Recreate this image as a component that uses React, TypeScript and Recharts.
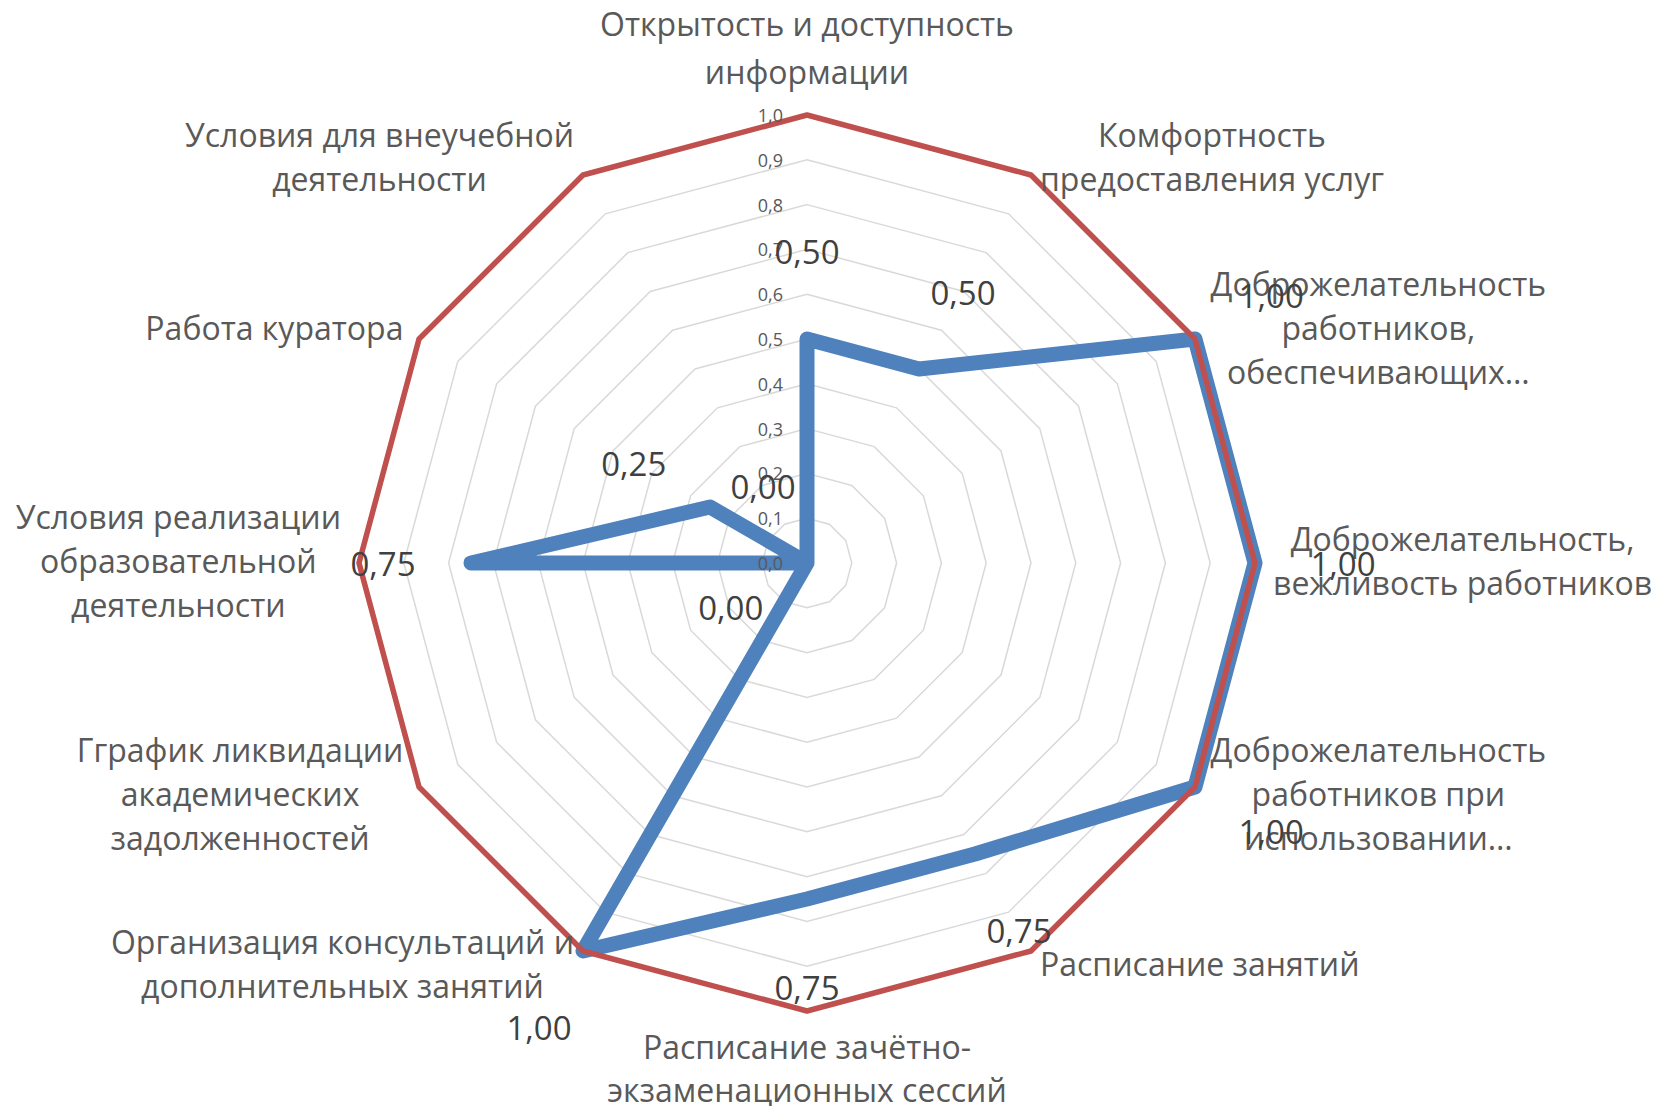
import React from "react";
import {
  RadarChart,
  PolarGrid,
  PolarAngleAxis,
  PolarRadiusAxis,
  Radar,
} from "recharts";

// categories, clockwise from the top; "\n" marks where the label wraps
const categories = [
  "Открытость и доступность\nинформации",
  "Комфортность\nпредоставления услуг",
  "Доброжелательность\nработников,\nобеспечивающих…",
  "Доброжелательность,\nвежливость работников",
  "Доброжелательность\nработников при\nиспользовании…",
  "Расписание занятий",
  "Расписание зачётно-\nэкзаменационных сессий",
  "Организация консультаций и\nдополнительных занятий",
  "Гграфик ликвидации\nакадемических\nзадолженностей",
  "Условия реализации\nобразовательной\nдеятельности",
  "Работа куратора",
  "Условия для внеучебной\nдеятельности",
];
const scores = [0.5, 0.5, 1, 1, 1, 0.75, 0.75, 1, 0, 0.75, 0.25, 0];
const maxScores = [1, 1, 1, 1, 1, 1, 1, 1, 1, 1, 1, 1];
const radialTicks = [0, 0.1, 0.2, 0.3, 0.4, 0.5, 0.6, 0.7, 0.8, 0.9, 1];

const data = categories.map((name, i) => ({
  name,
  score: scores[i],
  max: maxScores[i],
}));

const FONT = '"Open Sans", "Noto Sans", sans-serif';
const LABEL_SIZE = 32;
const LINE_H = 44;

let ctx: CanvasRenderingContext2D | null = null;
function textWidth(s: string, size: number) {
  if (!ctx) ctx = document.createElement("canvas").getContext("2d");
  if (!ctx) return s.length * size * 0.55;
  ctx.font = `${size}px ${FONT}`;
  return ctx.measureText(s).width;
}

function direction(i: number) {
  const a = (i / categories.length) * 2 * Math.PI;
  return { dx: Math.sin(a), dy: -Math.cos(a) };
}

function CategoryTick(props: any) {
  const { x, y, payload } = props;
  const i = categories.indexOf(payload.value);
  const { dx, dy } = direction(i);
  const ax = x + dx * 10;
  const ay = y + dy * 10;
  const lines = String(payload.value).split("\n");
  const w = Math.max(...lines.map((l) => textWidth(l, LABEL_SIZE)));
  let lineH = LINE_H;
  let mid = ax;
  if (dx > 0.01) mid = ax + w / 2;
  else if (dx < -0.01) mid = ax - w / 2;
  let top = ay - (lines.length * lineH) / 2 - 3;
  if (dy < -0.99) {
    lineH = 48;
    top = ay - lines.length * lineH - 2;
  } else if (dy > 0.99) {
    // bottom label sits right at the page edge
    lineH = 43;
    top = ay - 4;
  }
  return (
    <g>
      {lines.map((l, k) => (
        <text
          key={k}
          x={mid}
          y={top + lineH * (k + 0.5)}
          textAnchor="middle"
          dominantBaseline="central"
          fontFamily={FONT}
          fontSize={LABEL_SIZE}
          fill="#595959"
        >
          {l}
        </text>
      ))}
    </g>
  );
}

function RadiusTick(props: any) {
  const { x, y, payload } = props;
  return (
    <text
      x={x - 24}
      y={y}
      textAnchor="end"
      dominantBaseline="central"
      fontFamily={FONT}
      fontSize={18}
      fill="#595959"
    >
      {Number(payload.value).toFixed(1).replace(".", ",")}
    </text>
  );
}

function ValueLabel(props: any) {
  const { cx, cy, index } = props;
  const value = props.payload?.value ?? scores[index];
  const { dx, dy } = direction(index);
  return (
    <text
      key={index}
      x={cx + dx * 88}
      y={cy + dy * 88}
      textAnchor="middle"
      dominantBaseline="central"
      fontFamily={FONT}
      fontSize={33}
      fill="#404040"
    >
      {Number(value).toFixed(2).replace(".", ",")}
    </text>
  );
}

export default function App() {
  // negative margins cancel the body's top/bottom margin so the svg spans the full height
  return (
    <div style={{ width: 1643, height: 1114, marginTop: -8, marginBottom: -8 }}>
      <RadarChart
        width={1643}
        height={1114}
        data={data}
        cx={799}
        cy={563}
        outerRadius={448}
        margin={{ top: 0, right: 0, bottom: 0, left: 0 }}
      >
        <PolarGrid
          gridType="polygon"
          radialLines={false}
          stroke="#D9D9D9"
          strokeWidth={1.5}
        />
        <PolarAngleAxis
          dataKey="name"
          tick={CategoryTick}
          tickLine={false}
          axisLine={false}
          tickSize={8}
        />
        <PolarRadiusAxis
          angle={90}
          domain={[0, 1]}
          ticks={radialTicks as any}
          tickCount={11}
          tick={RadiusTick}
          axisLine={false}
          tickLine={false}
        />
        <Radar
          dataKey="score"
          stroke="#4F81BD"
          strokeWidth={15}
          strokeLinejoin="round"
          fill="none"
          fillOpacity={0}
          isAnimationActive={false}
        />
        <Radar
          dataKey="max"
          stroke="#C0504D"
          strokeWidth={5.5}
          strokeLinejoin="round"
          fill="none"
          fillOpacity={0}
          isAnimationActive={false}
        />
        <Radar
          dataKey="score"
          stroke="none"
          fill="none"
          fillOpacity={0}
          dot={ValueLabel}
          legendType="none"
          isAnimationActive={false}
        />
      </RadarChart>
    </div>
  );
}
